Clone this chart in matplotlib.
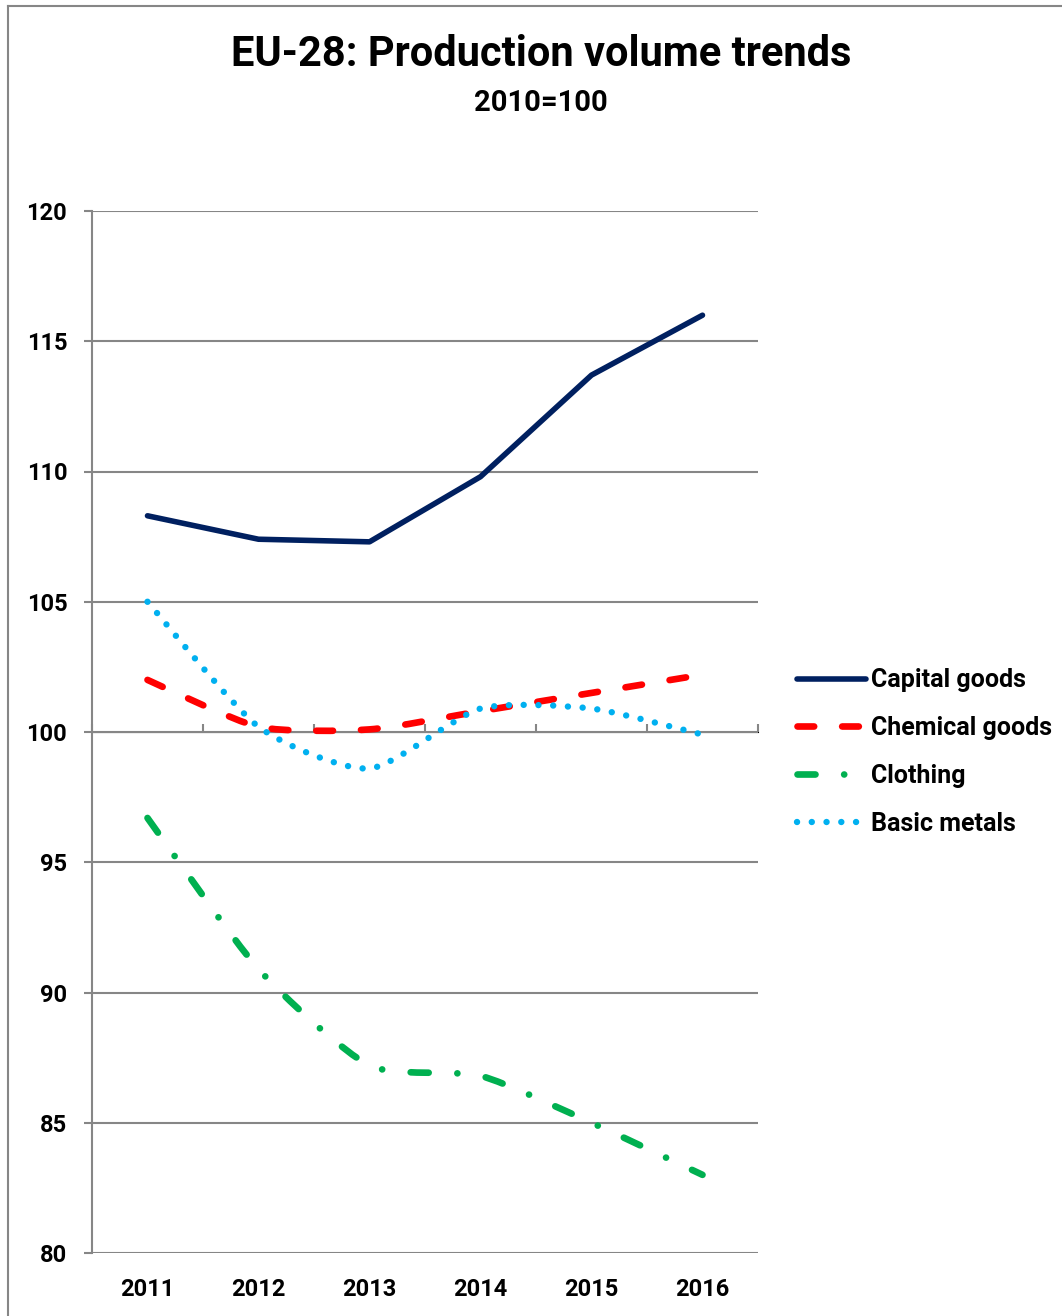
import matplotlib
matplotlib.use("Agg")
import matplotlib.pyplot as plt
import numpy as np
from matplotlib.path import Path
from matplotlib.patches import PathPatch
from matplotlib.lines import Line2D

# ---- data (index, 2010 = 100) ----
years = ["2011", "2012", "2013", "2014", "2015", "2016"]
capital_goods = [108.3, 107.4, 107.3, 109.8, 113.7, 116.0]
chemical_goods = [102.0, 100.2, 100.1, 100.8, 101.5, 102.2]
clothing = [96.7, 90.9, 87.2, 86.8, 85.0, 83.0]
basic_metals = [105.0, 100.2, 98.6, 100.9, 100.9, 99.9]

series_names = ["Capital goods", "Chemical goods", "Clothing", "Basic metals"]

plt.rcParams["font.family"] = ["Roboto", "DejaVu Sans"]
plt.rcParams["font.weight"] = "bold"

NAVY = "#002060"
RED = "#FF0000"
GREEN = "#00B050"
CYAN = "#00B0F0"
GRID = "#868686"

W, H = 1062, 1316
fig = plt.figure(figsize=(W / 100, H / 100), dpi=100)
ax = fig.add_axes([92 / W, 63 / H, 666 / W, 1042 / H])

x = np.arange(len(years))


def smooth_path(xs, ys, k=1 / 9):
    """Cubic Bezier path through the points (Catmull-Rom style smoothing)."""
    pts = np.column_stack([xs, ys]).astype(float)
    n = len(pts)
    verts = [pts[0]]
    codes = [Path.MOVETO]
    for i in range(n - 1):
        p_prev = pts[i - 1] if i > 0 else pts[i]
        p_next2 = pts[i + 2] if i + 2 < n else pts[i + 1]
        c1 = pts[i] + (pts[i + 1] - p_prev) * k
        c2 = pts[i + 1] - (p_next2 - pts[i]) * k
        verts += [c1, c2, pts[i + 1]]
        codes += [Path.CURVE4] * 3
    return Path(np.array(verts), codes)


# line styles (dash patterns in units of line width)
lw_cap = 4.0
lw_chem = 4.8
lw_cloth = 4.8
lw_metal = 4.6
dash_chem = (0, (2.5, 4.2))
dash_cloth = (0, (2.7, 4.3, 0.01, 4.3))
dash_metal = (0, (0.01, 2.3))

ax.plot(x, capital_goods, color=NAVY, lw=lw_cap, solid_capstyle="round",
        solid_joinstyle="round", zorder=3)

for vals, col, lw, ls, z in [
    (chemical_goods, RED, lw_chem, dash_chem, 4),
    (clothing, GREEN, lw_cloth, dash_cloth, 5),
    (basic_metals, CYAN, lw_metal, dash_metal, 6),
]:
    patch = PathPatch(smooth_path(x, vals), fill=False, edgecolor=col, lw=lw,
                      linestyle=ls, capstyle="round", joinstyle="round", zorder=z)
    ax.add_patch(patch)

# axes styling
ax.set_xlim(-0.5, len(years) - 0.5)
ax.set_ylim(80, 120)
ax.set_yticks(np.arange(80, 121, 5))
ax.set_xticks(x)
ax.set_xticklabels(years)
for s in ["top", "right", "bottom"]:
    ax.spines[s].set_visible(False)
ax.spines["left"].set_color(GRID)
ax.spines["left"].set_linewidth(1.5)
ax.yaxis.grid(True, color=GRID, lw=1.5)
ax.set_axisbelow(True)
ax.tick_params(axis="y", length=5.8, width=1.5, color=GRID, pad=12,
               labelsize=17, labelcolor="black")
ax.tick_params(axis="x", length=0, pad=18, labelsize=17, labelcolor="black")
for lab in ax.get_xticklabels() + ax.get_yticklabels():
    lab.set_fontweight("bold")

# category axis crossing at 100
sec = ax.secondary_xaxis((100 - 80) / 40)
sec.set_xticks(np.arange(len(years) + 1) - 0.5)
sec.set_xticklabels([])
sec.tick_params(axis="x", direction="out", length=5.8, width=1.5, color=GRID)
sec.spines["bottom"].set_color(GRID)
sec.spines["bottom"].set_linewidth(1.5)

# titles
fig.text(541 / W, 1 - 55 / H, "EU-28: Production volume trends", ha="center",
         va="center", fontsize=30, fontweight="bold")
fig.text(541 / W, 1 - 103 / H, "2010=100", ha="center", va="center",
         fontsize=21, fontweight="bold")

# legend
handles = [
    Line2D([], [], color=NAVY, lw=lw_cap, solid_capstyle="round"),
    Line2D([], [], color=RED, lw=lw_chem, linestyle=dash_chem, dash_capstyle="round"),
    Line2D([], [], color=GREEN, lw=lw_cloth, linestyle=dash_cloth, dash_capstyle="round"),
    Line2D([], [], color=CYAN, lw=lw_metal, linestyle=dash_metal, dash_capstyle="round"),
]
leg = fig.legend(handles, series_names, loc="center left",
                 bbox_to_anchor=(797 / W, 1 - 752 / H), frameon=False,
                 fontsize=18, handlelength=2.75, handletextpad=0.2,
                 labelspacing=0.95, borderpad=0, borderaxespad=0)
for t in leg.get_texts():
    t.set_fontweight("bold")

# chart border
fig.add_artist(Line2D([7.5 / W, 7.5 / W], [0, 1 - 5.5 / H], transform=fig.transFigure,
                      color=GRID, lw=1.5))
fig.add_artist(Line2D([7.5 / W, 1], [1 - 5.5 / H, 1 - 5.5 / H], transform=fig.transFigure,
                      color=GRID, lw=1.5))

fig.savefig("out.png", dpi=100)
